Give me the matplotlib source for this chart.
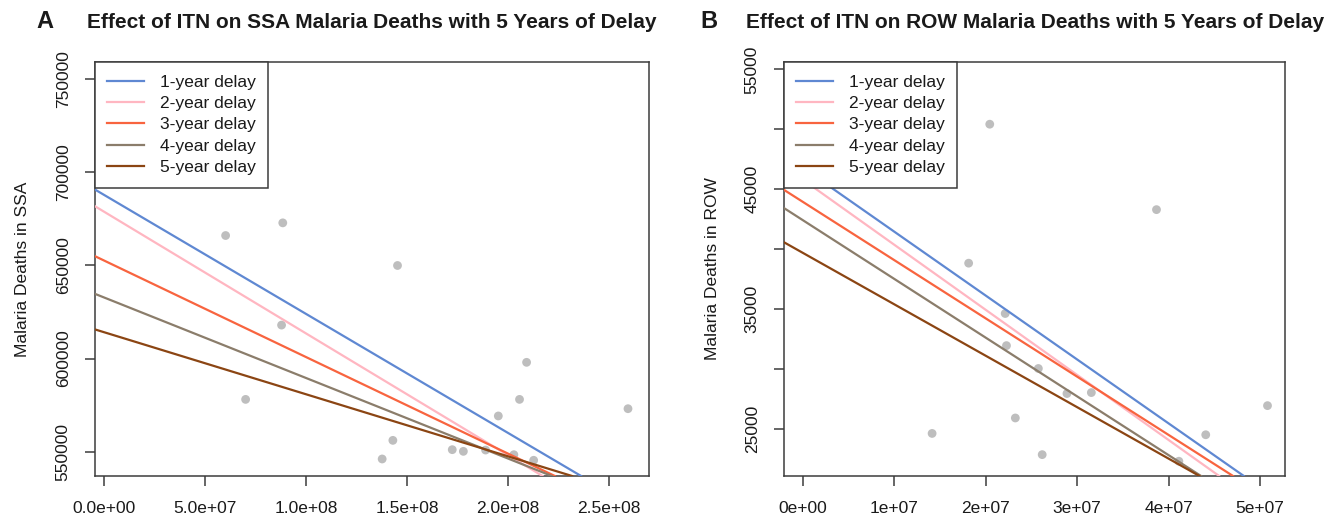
import matplotlib
matplotlib.use("Agg")
import matplotlib.pyplot as plt
import numpy as np

plt.rcParams['font.family'] = ['Liberation Sans', 'DejaVu Sans']

# ---------------- data ----------------
delay_labels = ["1-year delay", "2-year delay", "3-year delay", "4-year delay", "5-year delay"]

# Panel A: SSA
ssa_itn = [6.02e7, 8.85e7, 1.453e8, 8.79e7, 7.01e7, 2.092e8, 2.057e8, 1.952e8,
           2.594e8, 1.430e8, 1.377e8, 1.724e8, 1.779e8, 1.889e8, 2.029e8, 2.127e8]
ssa_deaths = [666100, 672900, 650000, 618000, 578100, 598000, 578100, 569200,
              573100, 556100, 546100, 551100, 550200, 550900, 548400, 545400]
ssa_intercepts = [687929, 678906, 652683, 632842, 614185]
ssa_slopes = [-6.392e-4, -6.538e-4, -5.185e-4, -4.325e-4, -3.333e-4]

# Panel B: ROW
row_itn = [2.043e7, 3.868e7, 1.812e7, 2.212e7, 2.226e7, 2.575e7, 2.888e7, 3.155e7,
           2.323e7, 1.412e7, 2.617e7, 4.113e7, 4.407e7, 5.083e7]
row_deaths = [50420, 43290, 38820, 34620, 31940, 30030, 27940, 28020,
              25900, 24610, 22840, 22290, 24500, 26930]
row_intercepts = [46770, 45776, 43924, 42396, 39669]
row_slopes = [-5.33e-4, -5.428e-4, -4.859e-4, -4.899e-4, -4.290e-4]

ssa_xticks = [0, 5e7, 1e8, 1.5e8, 2e8, 2.5e8]
ssa_xticklabels = ["0.0e+00", "5.0e+07", "1.0e+08", "1.5e+08", "2.0e+08", "2.5e+08"]
ssa_yticks = [550000, 600000, 650000, 700000, 750000]
ssa_yticklabels = ["550000", "600000", "650000", "700000", "750000"]

row_xticks = [0, 1e7, 2e7, 3e7, 4e7, 5e7]
row_xticklabels = ["0e+00", "1e+07", "2e+07", "3e+07", "4e+07", "5e+07"]
row_yticks = [25000, 30000, 35000, 40000, 45000, 50000, 55000]
row_yticklabels = ["25000", "", "35000", "", "45000", "", "55000"]

titles = ["Effect of ITN on SSA Malaria Deaths with 5 Years of Delay",
          "Effect of ITN on ROW Malaria Deaths with 5 Years of Delay"]
ylabels = ["Malaria Deaths in SSA", "Malaria Deaths in ROW"]
panel_letters = ["A", "B"]

# ---------------- style ----------------
line_colors = ["#5F88D2", "#FFB6C1", "#F8643F", "#8B7D6B", "#8B4513"]
point_color = "#BEBEBE"
frame_color = "#3c3c3c"
text_color = "#1a1a1a"
FS = 12.5

W, H = 1337, 518
fig = plt.figure(figsize=(W / 100, H / 100), dpi=100)

# axes boxes in pixels (left, top, right, bottom)
boxes = [(95, 62, 649, 476), (784, 62, 1285.5, 476)]
xlims = [(-4.46e6, 2.698e8), (-2.09e6, 5.28e7)]
ylims = [(536960, 759280), (21057, 55612)]
ylabel_x = [23, 713]
letter_x = [44.7, 708.5]

datasets = [
    (ssa_itn, ssa_deaths, ssa_intercepts, ssa_slopes, ssa_xticks, ssa_xticklabels,
     ssa_yticks, ssa_yticklabels),
    (row_itn, row_deaths, row_intercepts, row_slopes, row_xticks, row_xticklabels,
     row_yticks, row_yticklabels),
]

for i, (xs, ys, icpts, slopes, xt, xtl, yt, ytl) in enumerate(datasets):
    l, t, r, b = boxes[i]
    ax = fig.add_axes([l / W, 1 - b / H, (r - l) / W, (b - t) / H])
    ax.set_xlim(*xlims[i])
    ax.set_ylim(*ylims[i])

    ax.scatter(xs, ys, s=40, color=point_color, edgecolors='none', zorder=2)
    handles = []
    for k in range(len(delay_labels)):
        h = ax.axline((0, icpts[k]), slope=slopes[k], color=line_colors[k], lw=1.6,
                      label=delay_labels[k], zorder=3)
        handles.append(h)

    ax.set_xticks(xt)
    ax.set_xticklabels(xtl)
    ax.set_yticks(yt)
    ax.set_yticklabels(ytl, rotation=90, va='center')
    ax.tick_params(axis='both', direction='out', length=7.5, width=1.1,
                   color=frame_color, labelsize=FS, labelcolor=text_color)
    ax.tick_params(axis='x', pad=10.5)
    ax.tick_params(axis='y', pad=10)
    for sp in ax.spines.values():
        sp.set_color(frame_color)
        sp.set_linewidth(1.1)

    ax.set_ylabel(ylabels[i], fontsize=FS, color=text_color, va='center')
    ax.yaxis.set_label_coords((ylabel_x[i] - l) / (r - l), 0.5)

    leg = ax.legend(handles=handles, loc='upper left', bbox_to_anchor=(0, 1),
                    borderaxespad=0, fancybox=False, framealpha=1,
                    edgecolor=frame_color, fontsize=FS, handlelength=2.1,
                    handletextpad=0.9, labelspacing=0.36, borderpad=0.72)
    leg.get_frame().set_linewidth(1.1)
    for txt in leg.get_texts():
        txt.set_color(text_color)

    # title centred over plot
    fig.text((l + r) / 2 / W, 1 - 22 / H, titles[i], ha='center', va='center',
             fontsize=15, fontweight='bold', color=text_color)
    fig.text(letter_x[i] / W, 1 - 22 / H, panel_letters[i], ha='center', va='center',
             fontsize=17, fontweight='bold', color=text_color)

fig.savefig("out.png", dpi=100)
